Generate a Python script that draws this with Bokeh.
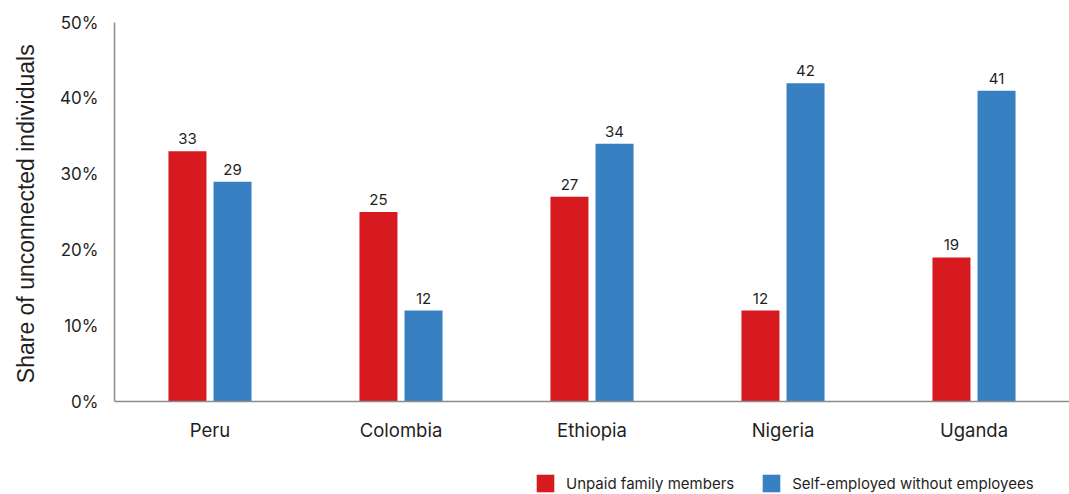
from bokeh.plotting import figure
from bokeh.models import (ColumnDataSource, FactorRange, Range1d, Legend, LegendItem,
                          LabelSet, FixedTicker, PrintfTickFormatter, Span)
from bokeh.core.properties import value
from bokeh.transform import dodge
from bokeh.embed import file_html
from bokeh.resources import INLINE

# Share of unconnected individuals (%) by employment status
countries = ["Peru", "Colombia", "Ethiopia", "Nigeria", "Uganda"]
unpaid_family = [33, 25, 27, 12, 19]
self_employed = [29, 12, 34, 42, 41]
series_names = ["Unpaid family members", "Self-employed without employees"]
y_ticks = [0, 10, 20, 30, 40, 50]
y_title = "Share of unconnected individuals"

RED = "#D71920"
BLUE = "#3781C2"
FONT = "Inter"
TEXT = "#1f1f1f"
AXIS = "#8c8c8c"

# Layout: the plot frame runs down to the bottom edge so that the category
# labels and the legend row live inside it, below the zero line.
TOP, LEFT = 22, 114
FRAME_H = 494 - TOP
ZERO_PX = 379                      # pixels between 0% and 50%
y_max = 50
y_min = y_max - y_max * FRAME_H / ZERO_PX

source = ColumnDataSource(dict(
    country=countries,
    unpaid=unpaid_family,
    selfemp=self_employed,
    unpaid_lbl=[f"{v:.0f}" for v in unpaid_family],
    selfemp_lbl=[f"{v:.0f}" for v in self_employed],
    base=[0] * len(countries),
))

p = figure(
    x_range=FactorRange(*countries, range_padding=0),
    y_range=Range1d(y_min, y_max),
    width=1069, height=494,
    x_axis_location=None,
    output_backend="svg", toolbar_location=None,
    min_border_left=LEFT, min_border_right=0,
    min_border_top=TOP, min_border_bottom=0,
)
p.outline_line_color = None
p.xgrid.visible = False
p.ygrid.visible = False
p.background_fill_color = "white"
p.border_fill_color = "white"

offset = 0.118
bar_w = 0.199
r_red = p.vbar(x=dodge("country", -offset, range=p.x_range), top="unpaid", width=bar_w,
               source=source, fill_color=RED, line_color=None)
r_blue = p.vbar(x=dodge("country", offset, range=p.x_range), top="selfemp", width=bar_w,
                source=source, fill_color=BLUE, line_color=None)

# Value labels above the bars
for col, lbl, off in (("unpaid", "unpaid_lbl", -offset), ("selfemp", "selfemp_lbl", offset)):
    p.add_layout(LabelSet(
        x=dodge("country", off, range=p.x_range), y=col, text=lbl, source=source,
        y_offset=7, text_align="center", text_baseline="bottom",
        text_font=value(FONT), text_font_size=value("15px"), text_color=TEXT,
    ))

# Baseline and category labels
p.add_layout(Span(location=0, dimension="width", line_color=AXIS, line_width=1.5))
p.add_layout(LabelSet(
    x="country", y="base", text="country", source=source,
    y_offset=-28, text_align="center", text_baseline="middle",
    text_font=value(FONT), text_font_size=value("18.5px"), text_color=TEXT,
))

# Y axis; the title is padded with non-breaking spaces at its start so that it
# sits centred on the 0-50% span rather than on the full frame height
p.yaxis.bounds = (0, y_max)
p.yaxis.ticker = FixedTicker(ticks=y_ticks)
p.yaxis.formatter = PrintfTickFormatter(format="%d%%")
p.yaxis.axis_label = "\u00a0" * 14 + y_title
p.yaxis.axis_label_text_font = "Liberation Sans"
p.yaxis.axis_label_text_font_size = "23px"
p.yaxis.axis_label_text_font_style = "normal"
p.yaxis.axis_label_text_color = TEXT
p.yaxis.axis_label_standoff = 18
p.yaxis.axis_line_color = AXIS
p.yaxis.axis_line_width = 1.5
p.yaxis.major_tick_line_color = None
p.yaxis.minor_tick_line_color = None
p.yaxis.major_label_text_font = FONT
p.yaxis.major_label_text_color = TEXT
p.yaxis.major_label_text_font_size = "17px"
p.yaxis.major_label_standoff = 10

legend = Legend(
    items=[LegendItem(label=series_names[0], renderers=[r_red]),
           LegendItem(label=series_names[1], renderers=[r_blue])],
    orientation="horizontal",
    location=(420, 0),
    glyph_width=22, glyph_height=22, label_height=22,
    label_standoff=10, spacing=26, padding=0, margin=0,
    label_text_font=FONT, label_text_font_size="15px", label_text_color=TEXT,
    border_line_color=None, background_fill_alpha=0,
)
p.add_layout(legend, "center")

open("out.html", "w").write(file_html(p, INLINE))
